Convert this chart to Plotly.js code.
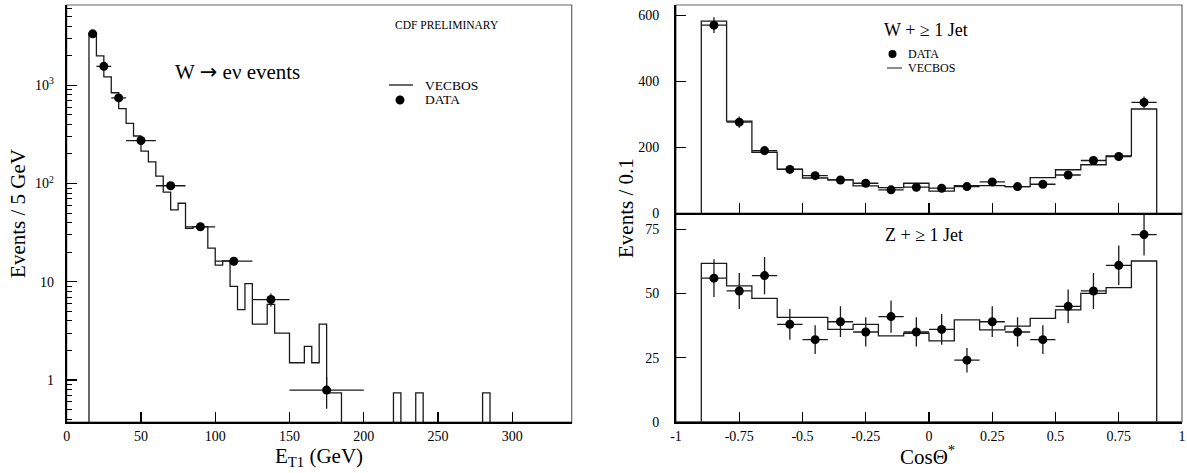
<!DOCTYPE html>
<html><head><meta charset="utf-8">
<script src="https://cdn.plot.ly/plotly-3.0.1.min.js"></script>
<style>html,body{margin:0;padding:0;background:#fff}#chart{width:1187px;height:473px}</style>
</head><body><div id="chart"></div>
<script>
// ---------- Left panel: E_T1 spectrum (W -> e nu) ----------
const etBinLow = [15,20,25,30,35,40,45,50,55,60,65,70,75,80,85,90,95,100,105,110,
  115,120,125,130,135,140,145,150,155,160,165,170,175,180,185,190,195,200,205,210,
  215,220,225,230,235,240,245,250,255,260,265,270,275,280];
const etVecbos = [3370,1990,1220,840,580,410,305,214,166,119,82,54,63,35,36.5,36.5,22,14.8,16.3,9.0,
  5.2,9.6,3.7,3.7,5.9,3.0,3.0,1.5,1.5,2.2,1.5,3.7,0.74,0.74,0,0,0,0,0,0,
  0,0.74,0,0,0.74,0,0,0,0,0,0,0,0,0.74];
const etDataX    = [17.5, 25, 35, 50, 70, 90, 112.5, 137.5, 175];
const etDataY    = [3340, 1560, 745, 274, 95, 36.3, 16.2, 6.6, 0.79];
const etDataXErr = [2.5, 5, 5, 10, 10, 10, 12.5, 12.5, 25];
const etDataYErr = [58, 28, 19, 8, 5, 2.5, 1.5, 1.0, 0.28];
const etTickVals = [0,50,100,150,200,250,300];
const etTickText = ['0','50','100','150','200','250','300'];
const logTickVals = [1,10,100,1000];
const logTickText = ['1','10','10<sup>2</sup>','10<sup>3</sup>'];
const logMinorVals = [0.4,0.5,0.6,0.7,0.8,0.9,2,3,4,5,6,7,8,9,20,30,40,50,60,70,80,90,
  200,300,400,500,600,700,800,900,2000,3000,4000,5000,6000];

// ---------- Right panels: cos theta* ----------
const cosBinLow = [-0.9,-0.8,-0.7,-0.6,-0.5,-0.4,-0.3,-0.2,-0.1,0.0,0.1,0.2,0.3,0.4,0.5,0.6,0.7,0.8];
const cosCenters = [-0.85,-0.75,-0.65,-0.55,-0.45,-0.35,-0.25,-0.15,-0.05,0.05,0.15,0.25,0.35,0.45,0.55,0.65,0.75,0.85];
const wVecbos = [582,279,185,134,107,101,83,78,91,67,84,84,81,108,132,147,174,316];
const wData   = [570,276,190,133,114,101,91,71,79,76,81,95,81,88,116,160,172,336];
const wErr    = [24,17,14,12,11,10,10,8,9,9,9,10,9,9,11,13,13,18];
const zVecbos = [61.8,53.0,48.1,40.7,40.7,36.0,38.0,33.5,34.5,31.5,39.7,35.8,37.3,40.3,43.6,50.1,52.3,62.7];
const zData   = [56,51,57,38,32,39,35,41,35,36,24,39,35,32,45,51,61,73];
const zErr    = [7.4,7,7.3,6,5.6,6,5.7,6.3,5.7,6,4.8,6,5.7,5.6,6.6,7,7.7,8.2];
const cosTickVals = [-1,-0.75,-0.5,-0.25,0,0.25,0.5,0.75,1];
const cosTickText = ['-1','-0.75','-0.5','-0.25','0','0.25','0.5','0.75','1'];

// step outline builder (histogram contour from floor)
function stepOutline(lows, vals, width, floor) {
  const xs = [lows[0]], ys = [floor];
  for (let i = 0; i < lows.length; i++) { xs.push(lows[i]); ys.push(vals[i] > 0 ? vals[i] : floor); }
  const end = lows[lows.length-1] + width;
  xs.push(end); ys.push(vals[vals.length-1] > 0 ? vals[vals.length-1] : floor);
  xs.push(end); ys.push(floor);
  return {xs, ys};
}

const W = 1187, H = 473;
const px = v => v / W, py = v => 1 - v / H;
const serif = 'Liberation Serif, Times New Roman, serif';
const lineCol = '#1a1a1a';

const etStep = stepOutline(etBinLow, etVecbos, 5, 1e-3);
const wStep = stepOutline(cosBinLow, wVecbos, 0.1, 0);
const zStep = stepOutline(cosBinLow, zVecbos, 0.1, 0);

const histStyle = {mode:'lines', line:{shape:'hv', color:lineCol, width:1.3}, hoverinfo:'skip', showlegend:false};
const dataStyle = {mode:'markers', marker:{color:'black', size:9}, showlegend:false};

const traces = [
  Object.assign({x: etStep.xs, y: etStep.ys, xaxis:'x', yaxis:'y', name:'VECBOS'}, histStyle),
  Object.assign({x: etDataX, y: etDataY, xaxis:'x', yaxis:'y', name:'DATA',
    error_x:{type:'data', array: etDataXErr, width:0, thickness:1.3, color:lineCol},
    error_y:{type:'data', array: etDataYErr, width:0, thickness:1.3, color:lineCol}}, dataStyle),
  Object.assign({x: wStep.xs, y: wStep.ys, xaxis:'x2', yaxis:'y2', name:'VECBOS'}, histStyle),
  Object.assign({x: cosCenters, y: wData, xaxis:'x2', yaxis:'y2', name:'DATA',
    error_x:{type:'constant', value:0.05, width:0, thickness:1.3, color:lineCol},
    error_y:{type:'data', array: wErr, width:0, thickness:1.3, color:lineCol}}, dataStyle),
  Object.assign({x: zStep.xs, y: zStep.ys, xaxis:'x3', yaxis:'y3', name:'VECBOS'}, histStyle),
  Object.assign({x: cosCenters, y: zData, xaxis:'x3', yaxis:'y3', name:'DATA',
    error_x:{type:'constant', value:0.05, width:0, thickness:1.3, color:lineCol},
    error_y:{type:'data', array: zErr, width:0, thickness:1.3, color:lineCol}}, dataStyle)
];

const tickFont = {family: serif, size: 14, color: 'black'};
const axBase = {showgrid:false, zeroline:false, showline:true, linecolor:'black', linewidth:2,
  ticks:'inside', ticklen:10, tickwidth:1.3, tickcolor:'black', tickfont:tickFont, automargin:false, fixedrange:true};

const leftDom = [px(66.7), px(571.7)];
const rightDom = [px(676), px(1182)];
const ann = (x, y, text, size, extra) => Object.assign({xref:'paper', yref:'paper', x:px(x), y:py(y),
  xanchor:'left', yanchor:'middle', showarrow:false, text:text, font:{family:serif, size:size, color:'black'}}, extra || {});

const layout = {
  width: W, height: H, margin:{l:0,r:0,t:0,b:0}, paper_bgcolor:'white', plot_bgcolor:'white',
  showlegend:false, hovermode:false,
  xaxis: Object.assign({}, axBase, {domain:leftDom, anchor:'y', range:[0,340], tickmode:'array',
    tickvals: etTickVals, ticktext: etTickText, ticklabelstandoff: 0}),
  yaxis: Object.assign({}, axBase, {domain:[py(422), py(5)], anchor:'x', type:'log',
    range:[Math.log10(0.374), Math.log10(6570)], tickmode:'array', tickvals: logTickVals, ticktext: logTickText,
    ticklabelstandoff: 8,
    minor:{tickmode:'array', tickvals: logMinorVals, ticks:'inside', ticklen:5, tickwidth:1, tickcolor:'black'},
    title:{text:'Events / 5 GeV', font:{family:serif, size:21, color:'black'}, standoff:4}}),
  xaxis2: Object.assign({}, axBase, {domain:rightDom, anchor:'y2', range:[-1,1], tickmode:'array',
    tickvals: cosTickVals, showticklabels:false}),
  yaxis2: Object.assign({}, axBase, {domain:[py(213.3), py(5)], anchor:'x2', range:[0,631], tickmode:'array',
    tickvals:[0,200,400,600], ticktext:['0','200','400','600'], ticklabelstandoff: 12}),
  xaxis3: Object.assign({}, axBase, {domain:rightDom, anchor:'y3', range:[-1,1], tickmode:'array',
    tickvals: cosTickVals, ticktext: cosTickText, ticklabelstandoff: 0}),
  yaxis3: Object.assign({}, axBase, {domain:[py(421.7), py(213.3)], anchor:'x3', range:[0,81.3], tickmode:'array',
    tickvals:[0,25,50,75], ticktext:['0','25','50','75'], ticklabelstandoff: 12}),
  shapes: [
    {type:'rect', xref:'x domain', yref:'y domain', x0:0, x1:1, y0:0, y1:1, line:{color:'#666', width:1.2}, layer:'below'},
    {type:'rect', xref:'x2 domain', yref:'y2 domain', x0:0, x1:1, y0:0, y1:1, line:{color:'#666', width:1.2}, layer:'below'},
    {type:'rect', xref:'x3 domain', yref:'y3 domain', x0:0, x1:1, y0:0, y1:1, line:{color:'#666', width:1.2}, layer:'below'},
    // left legend symbols
    {type:'line', xref:'paper', yref:'paper', x0:px(389), x1:px(413), y0:py(85), y1:py(85), line:{color:lineCol, width:1.3}},
    {type:'circle', xref:'paper', yref:'paper', x0:px(395.5), x1:px(404.5), y0:py(104.5), y1:py(95.5), fillcolor:'black', line:{width:0}},
    // right legend symbols
    {type:'circle', xref:'paper', yref:'paper', x0:px(888.5), x1:px(896.5), y0:py(58), y1:py(50), fillcolor:'black', line:{width:0}},
    {type:'line', xref:'paper', yref:'paper', x0:px(887), x1:px(902), y0:py(68), y1:py(68), line:{color:lineCol, width:1}}
  ],
  annotations: [
    ann(173, 72, "W <span style='font-family:DejaVu Sans'>→</span> eν events", 21),
    ann(393, 25, 'CDF PRELIMINARY', 11.5),
    ann(423, 85, 'VECBOS', 13.5),
    ann(423, 100, 'DATA', 13.5),
    ann(882, 30, 'W + ≥ 1 Jet', 18),
    ann(906, 54, 'DATA', 12),
    ann(906, 68, 'VECBOS', 12),
    ann(883, 235, 'Z + ≥ 1 Jet', 18),
    ann(626, 208, 'Events / 0.1', 21, {xanchor:'center', textangle:-90}),
    ann(319, 457, 'E<sub>T1</sub> (GeV)', 21, {xanchor:'center'}),
    ann(927, 455, 'CosΘ<sup>*</sup>', 21, {xanchor:'center'})
  ]
};

Plotly.newPlot('chart', traces, layout, {staticPlot:true, displayModeBar:false});
</script>
</body></html>
